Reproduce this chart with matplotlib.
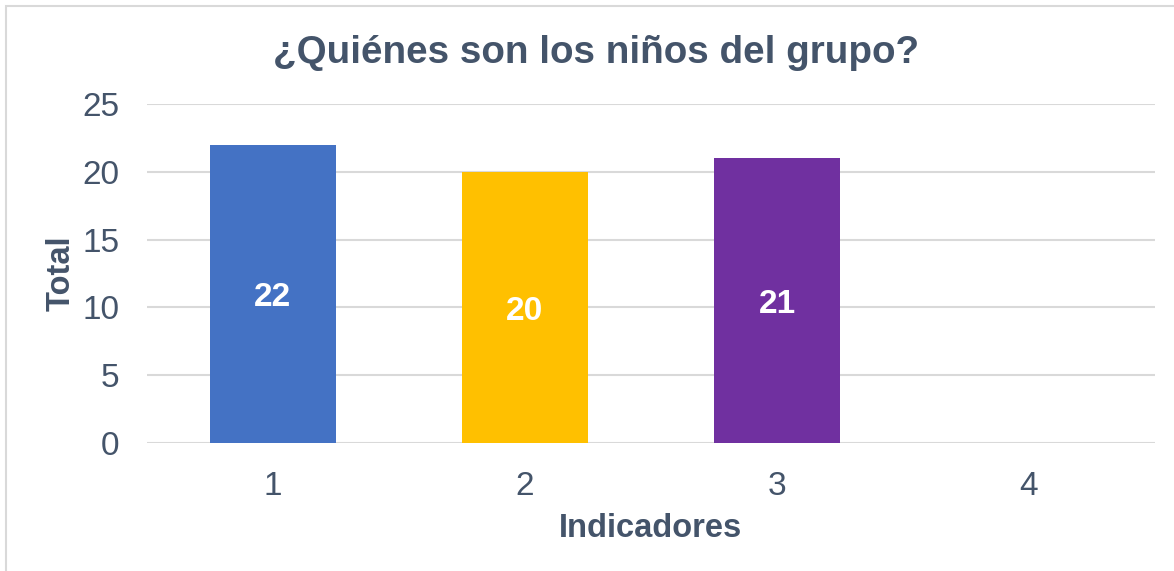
import matplotlib.pyplot as plt
from matplotlib.patches import Rectangle

plt.rcParams['font.family'] = ['Liberation Sans', 'DejaVu Sans']

indicadores = ['1', '2', '3', '4']
totales = [22, 20, 21, 0]
colores = ['#4472C4', '#FFC000', '#7030A0', '#A5A5A5']
texto = '#44546A'

fig = plt.figure(figsize=(11.74, 5.71), dpi=100)
ax = fig.add_axes([0.1252, 0.2242, 0.8586, 0.5937])

x = range(len(indicadores))
barras = ax.bar(x, totales, width=0.5, color=colores, zorder=3)
for b, v in zip(barras, totales):
    if v > 0:
        ax.text(b.get_x() + b.get_width() / 2, v / 2 - 0.3, str(v), ha='center', va='center',
                color='white', fontsize=24, fontweight='bold', zorder=4)

ax.set_xlim(-0.5, 3.5)
ax.set_ylim(0, 25)
ax.set_yticks([0, 5, 10, 15, 20, 25])
ax.set_xticks(list(x))
ax.set_xticklabels(indicadores)
ax.tick_params(axis='both', length=0, labelsize=24, labelcolor=texto)
ax.tick_params(axis='y', pad=20)
ax.tick_params(axis='x', pad=20)
ax.grid(axis='y', color='#D9D9D9', linewidth=1.5, zorder=0)
for s in ax.spines.values():
    s.set_visible(False)

ax.set_xlabel('Indicadores', fontsize=23.5, fontweight='bold', color=texto, labelpad=8)
ax.set_ylabel('Total', fontsize=23.5, fontweight='bold', color=texto, labelpad=4)
fig.text(0.508, 0.907, '¿Quiénes son los niños del grupo?', ha='center', va='center',
         fontsize=27.8, fontweight='bold', color=texto)

fig.patches.append(Rectangle((0.005, -0.01), 1.2, 1.0, transform=fig.transFigure,
                             fill=False, edgecolor='#D9D9D9', linewidth=1.5))

fig.savefig('out.png', dpi=100)
